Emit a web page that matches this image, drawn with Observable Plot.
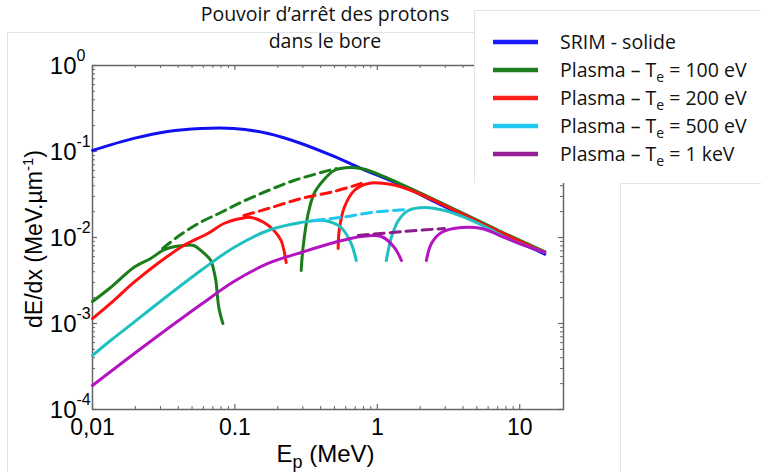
<!DOCTYPE html>
<html><head><meta charset="utf-8">
<script src="https://cdn.jsdelivr.net/npm/d3@7"></script>
<script src="https://cdn.jsdelivr.net/npm/@observablehq/plot@0.6"></script>
<style>
html,body{margin:0;padding:0;background:#fff;}
#wrap{position:relative;width:761px;height:472px;overflow:hidden;background:#fff;}
.box{position:absolute;border-top:1px solid #e3e3e3;border-left:1px solid #e3e3e3;box-sizing:border-box;}
#plot{position:absolute;left:0;top:0;}
#overlay{position:absolute;left:0;top:0;pointer-events:none;}
</style></head><body>
<div id="wrap">
  <div class="box" style="left:7px;top:32px;width:467px;height:440px;"></div>
  <div class="box" style="left:620px;top:183px;width:141px;height:289px;"></div>
  <div id="plot"></div>
  <div class="box" style="left:474px;top:10px;width:287px;height:173px;background:#fff;"></div>
  <svg id="overlay" width="761" height="472"></svg>
</div>
<script>
// ---- Data (E in MeV, dE/dx in MeV/µm) ----
const srimSolide = [[0.01,0.103],[0.0195,0.142],[0.0337,0.171],[0.0577,0.185],[0.0984,0.185],[0.171,0.162],[0.292,0.124],[0.498,0.0875],[0.771,0.0634],[1.48,0.0403],[2.69,0.0248],[7.11,0.0114],[15,0.0064]];

const te100Low  = [[0.01,0.0018],[0.0134,0.00262],[0.0195,0.00448],[0.0256,0.0057],[0.0311,0.00706],[0.0354,0.00766],[0.0437,0.00807],[0.0514,0.00807],[0.0577,0.00706],[0.0678,0.0054],[0.0711,0.00413],[0.0735,0.00316],[0.0771,0.00153],[0.0823,0.001]];
const te100Dash = [[0.0311,0.00745],[0.0417,0.01083],[0.0577,0.0151],[0.0797,0.01954],[0.110,0.0255],[0.171,0.0352],[0.260,0.046],[0.403,0.057],[0.514,0.0634]];
const te100High = [[0.292,0.00413],[0.301,0.00766],[0.327,0.019],[0.360,0.0325],[0.417,0.046],[0.498,0.0601],[0.625,0.0652],[0.771,0.0634],[0.908,0.0585],[1.48,0.0415],[2.69,0.0262],[7.11,0.01206],[15,0.00687]];

const te200Low  = [[0.01,0.00114],[0.0134,0.00171],[0.0195,0.003],[0.0287,0.00499],[0.0437,0.00807],[0.0645,0.01113],[0.0837,0.01455],[0.110,0.01663],[0.1297,0.0171],[0.160,0.01494],[0.188,0.01206],[0.211,0.00923],[0.229,0.00512]];
const te200Dash = [[0.1157,0.018],[0.171,0.0217],[0.292,0.0284],[0.498,0.0343],[0.771,0.0425]];
const te200High = [[0.531,0.00745],[0.540,0.01206],[0.586,0.0223],[0.689,0.0352],[0.865,0.0425],[1.255,0.0413],[1.735,0.0352],[2.69,0.0255],[7.11,0.01175],[15,0.0067]];

const te500Low  = [[0.01,0.000425],[0.0134,0.000634],[0.0195,0.00103],[0.0287,0.00171],[0.0577,0.00413],[0.0984,0.00766],[0.171,0.01206],[0.292,0.01494],[0.424,0.01577],[0.557,0.01306],[0.656,0.00851],[0.711,0.0054]];
const te500Dash = [[0.360,0.01577],[0.557,0.0171],[0.908,0.01954],[1.653,0.0212]];
const te500High = [[1.157,0.0054],[1.255,0.01],[1.406,0.01577],[1.653,0.0206],[2.14,0.0223],[2.96,0.0206],[4.10,0.0171],[6.05,0.01273],[8.79,0.00923],[15,0.0067]];

const te1kLow  = [[0.01,0.00019],[0.0244,0.000585],[0.0577,0.00166],[0.0984,0.00308],[0.171,0.00499],[0.292,0.0067],[0.498,0.00875],[0.771,0.01028],[1.067,0.01028],[1.318,0.00766],[1.476,0.0054]];
const te1kDash = [[0.735,0.01055],[1.55,0.01175],[2.96,0.01273]];
const te1kHigh = [[2.21,0.0054],[2.40,0.00851],[2.82,0.01143],[3.91,0.01306],[5.40,0.01273],[7.83,0.01],[10.84,0.00807],[15,0.0067]];

const xTicks = [0.01, 0.1, 1, 10];
const xTickLabels = ["0,01", "0.1", "1", "10"];
const yTicks = [1, 0.1, 0.01, 0.001, 0.0001];
const yTickExponents = ["0", "-1", "-2", "-3", "-4"];
const minorMultipliers = [2,3,4,5,6,7,8,9];

const titleLines = ["Pouvoir d\u2019arrêt des protons", "dans le bore"];
const legendLabels = [["SRIM - solide"], ["Plasma \u2013 T","e"," = 100 eV"], ["Plasma \u2013 T","e"," = 200 eV"], ["Plasma \u2013 T","e"," = 500 eV"], ["Plasma \u2013 T","e"," = 1 keV"]];
const legendColors = ["#1a1aff", "#1e7d1e", "#ff1e1e", "#1ec8f0", "#951e95"];

// ---- styles ----
const C = {blue:"#1010f0", green:"#1a7d1a", red:"#ff1010", cyan:"#1fc0c0", cyanDash:"#1ec8f0", mag:"#b414c0", magDash:"#8c1c8c"};
const dash = "10,6";
const series = [
  {pts: srimSolide, color: C.blue},
  {pts: te100Low, color: C.green}, {pts: te100Dash, color: C.green, dash}, {pts: te100High, color: C.green},
  {pts: te200Low, color: C.red}, {pts: te200Dash, color: C.red, dash}, {pts: te200High, color: C.red},
  {pts: te500Low, color: C.cyan}, {pts: te500Dash, color: C.cyanDash, dash}, {pts: te500High, color: C.cyan},
  {pts: te1kLow, color: C.mag}, {pts: te1kDash, color: C.magDash, dash}, {pts: te1kHigh, color: C.mag}
];

const xMinor = [], yMinor = [];
for (const d of [0.01, 0.1, 1, 10]) for (const m of minorMultipliers) if (d*m < 20) xMinor.push(d*m);
for (const d of [0.0001, 0.001, 0.01, 0.1]) for (const m of minorMultipliers) yMinor.push(d*m);

const W = 761, H = 472, mL = 92, mR = 198, mT = 65, mB = 63;
const pw = W - mL - mR, ph = H - mT - mB;
const tickColor = "#666";
const fontMain = "Liberation Sans, Arial, sans-serif";

const plot = Plot.plot({
  width: W, height: H,
  marginLeft: mL, marginRight: mR, marginTop: mT, marginBottom: mB,
  style: {background: "transparent", fontFamily: fontMain, color: "#000"},
  x: {type: "log", domain: [0.01, 20.3], axis: null},
  y: {type: "log", domain: [1e-4, 1], axis: null},
  marks: [
    Plot.frame({stroke: tickColor, strokeWidth: 1.5}),
    // inward ticks on all four sides
    Plot.tickX(xTicks, {x: d => d, insetTop: ph - 5, stroke: tickColor, strokeWidth: 1.2}),
    Plot.tickX(xTicks, {x: d => d, insetBottom: ph - 5, stroke: tickColor, strokeWidth: 1.2}),
    Plot.tickX(xMinor, {x: d => d, insetTop: ph - 3, stroke: tickColor, strokeWidth: 1}),
    Plot.tickX(xMinor, {x: d => d, insetBottom: ph - 3, stroke: tickColor, strokeWidth: 1}),
    Plot.tickY(yTicks, {y: d => d, insetRight: pw - 5, stroke: tickColor, strokeWidth: 1.2}),
    Plot.tickY(yTicks, {y: d => d, insetLeft: pw - 5, stroke: tickColor, strokeWidth: 1.2}),
    Plot.tickY(yMinor, {y: d => d, insetRight: pw - 3, stroke: tickColor, strokeWidth: 1}),
    Plot.tickY(yMinor, {y: d => d, insetLeft: pw - 3, stroke: tickColor, strokeWidth: 1}),
    // tick labels
    Plot.text(xTicks, {x: d => d, frameAnchor: "bottom", lineAnchor: "top", dy: 9, text: (d, i) => xTickLabels[i], fontSize: 23, fill: "#000"}),
    Plot.text(yTicks, {y: d => d, frameAnchor: "left", dx: -16, dy: 1, textAnchor: "end", text: () => "10", fontSize: 24, fill: "#000"}),
    Plot.text(yTicks, {y: d => d, frameAnchor: "left", dx: -16, dy: -10, textAnchor: "start", text: (d, i) => yTickExponents[i], fontSize: 16, fill: "#000"}),
    // curves
    ...series.map(s => Plot.line(s.pts, {x: d => d[0], y: d => d[1], stroke: s.color, strokeWidth: 3, strokeDasharray: s.dash, curve: "catmull-rom"}))
  ]
});
document.getElementById("plot").appendChild(plot);

// ---- overlay: title, axis labels, legend ----
const ov = d3.select("#overlay");
const cx = mL + pw / 2;
ov.append("text").attr("x", 325).attr("y", 21).attr("text-anchor", "middle")
  .style("font-family", "'Open Sans'").style("font-size", "19.5px").attr("fill", "#111").text(titleLines[0]);
ov.append("text").attr("x", 325).attr("y", 48).attr("text-anchor", "middle")
  .style("font-family", "'Open Sans'").style("font-size", "19.5px").attr("fill", "#111").text(titleLines[1]);

const yl = ov.append("text").attr("transform", `translate(42,${mT + ph/2 + 2}) rotate(-90)`).attr("text-anchor", "middle")
  .style("font-family", fontMain).style("font-size", "23px").attr("fill", "#000");
yl.append("tspan").text("dE/dx (MeV.µm");
yl.append("tspan").attr("dy", -9).style("font-size", "15px").text("-1");
yl.append("tspan").attr("dy", 9).text(")");

const xl = ov.append("text").attr("x", cx - 2).attr("y", 462).attr("text-anchor", "middle")
  .style("font-family", fontMain).style("font-size", "24px").attr("fill", "#000");
xl.append("tspan").text("E");
xl.append("tspan").attr("dy", 6).style("font-size", "18px").text("p");
xl.append("tspan").attr("dy", -6).text(" (MeV)");

legendLabels.forEach((parts, i) => {
  const y = 42 + i * 28;
  ov.append("line").attr("x1", 493).attr("x2", 538).attr("y1", y).attr("y2", y)
    .attr("stroke", legendColors[i]).attr("stroke-width", 4.5);
  const t = ov.append("text").attr("x", 560).attr("y", y + 7)
    .style("font-family", "'Open Sans'").style("font-size", "19.5px").attr("fill", "#111");
  t.append("tspan").text(parts[0]);
  if (parts.length > 1) {
    t.append("tspan").attr("dy", 5).style("font-size", "14px").text(parts[1]);
    t.append("tspan").attr("dy", -5).text(parts[2]);
  }
});
</script>
</body></html>
